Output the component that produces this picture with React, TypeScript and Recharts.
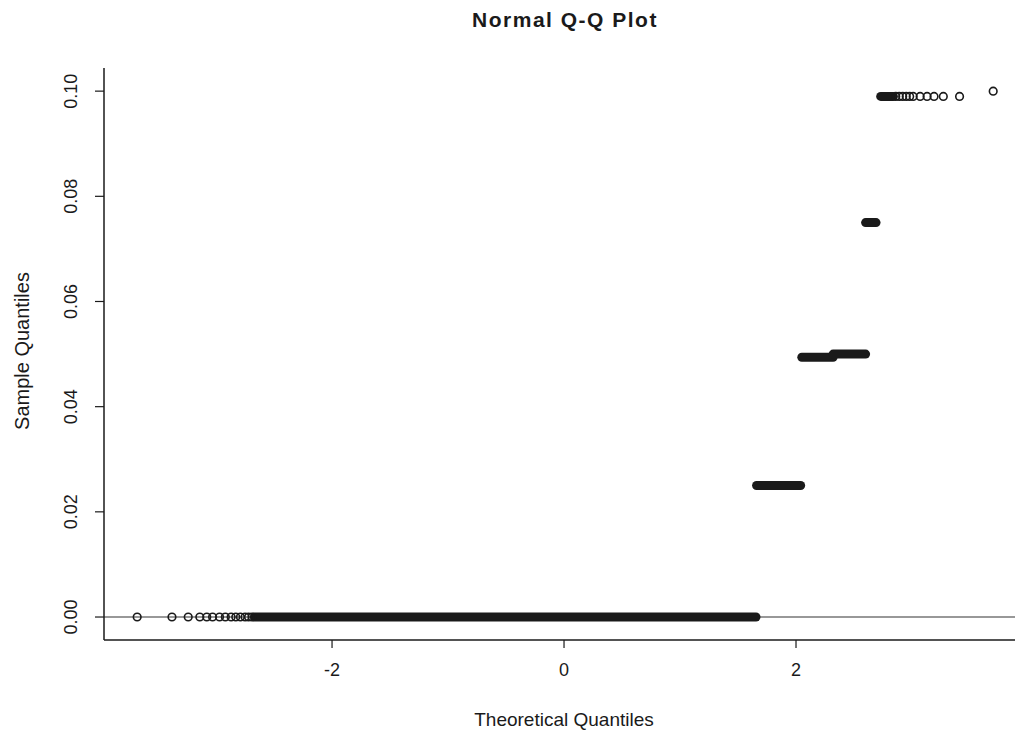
import React from 'react';
import {
  ComposedChart,
  Scatter,
  Line,
  XAxis,
  YAxis,
  ReferenceLine,
} from 'recharts';

// Sparse tail points at sample value 0 (left tail)
const LEFT_TAIL_X = [-3.68, -3.38, -3.24, -3.14, -3.08, -3.03, -2.97, -2.92, -2.87, -2.83, -2.79, -2.75, -2.72, -2.69];
// Sparse points at 0.099 (right tail)
const TOP_TAIL_X = [2.86, 2.89, 2.92, 2.95, 2.98, 3.01, 3.07, 3.13, 3.19, 3.27, 3.41];
const TOP_TAIL_Y = 0.099;
// The single max point
const MAX_POINT = { x: 3.7, y: 0.1 };

// Dense runs of overlapping points: [fromX, toX, sampleValue]
const DENSE_RUNS: [number, number, number][] = [
  [-2.67, 1.655, 0],
  [1.66, 2.04, 0.025],
  [2.05, 2.32, 0.0494],
  [2.32, 2.6, 0.05],
  [2.6, 2.69, 0.075],
  [2.73, 2.84, 0.099],
];

const X_TICKS = [-2, 0, 2];
const Y_TICKS = [0, 0.02, 0.04, 0.06, 0.08, 0.1];
const Y_TICK_LABELS = ['0.00', '0.02', '0.04', '0.06', '0.08', '0.10'];

const FONT = '"Liberation Sans", Arial, sans-serif';
const INK = '#1a1a1a';

const points = [
  ...LEFT_TAIL_X.map((x) => ({ x, y: 0 })),
  ...TOP_TAIL_X.map((x) => ({ x, y: TOP_TAIL_Y })),
  MAX_POINT,
];

function OpenCircle(props: any) {
  const { cx, cy } = props;
  if (cx == null || cy == null) return null;
  return <circle cx={cx} cy={cy} r={3.8} fill="none" stroke={INK} strokeWidth={1.6} />;
}

function XTick(props: any) {
  const { x, y, payload } = props;
  return (
    <text x={x} y={y + 26} textAnchor="middle" fontFamily={FONT} fontSize={18} fill={INK}>
      {payload.value}
    </text>
  );
}

function YTick(props: any) {
  const { x, y, payload } = props;
  const idx = Y_TICKS.indexOf(payload.value);
  const label = idx >= 0 ? Y_TICK_LABELS[idx] : String(payload.value);
  const bx = x - 16;
  return (
    <text
      x={bx}
      y={y}
      transform={`rotate(-90, ${bx}, ${y})`}
      textAnchor="middle"
      fontFamily={FONT}
      fontSize={18}
      fill={INK}
    >
      {label}
    </text>
  );
}

export default function App() {
  return (
    <div style={{ position: 'absolute', left: 0, top: 0, width: 1015, height: 735, background: '#fff' }}>
      <ComposedChart
        width={1015}
        height={735}
        margin={{ top: 68, right: 0, bottom: 0, left: 0 }}
      >
        <XAxis
          xAxisId="bottom"
          type="number"
          dataKey="x"
          domain={[-3.966, 3.888]}
          ticks={X_TICKS}
          height={95}
          tickSize={8}
          tick={<XTick />}
          axisLine={{ stroke: INK, strokeWidth: 1.5 }}
          tickLine={{ stroke: INK, strokeWidth: 1.2 }}
          allowDataOverflow
        />
        <XAxis
          xAxisId="top"
          orientation="top"
          type="number"
          dataKey="x"
          domain={[-3.966, 3.888]}
          height={0}
          tick={false}
          tickLine={false}
          axisLine={{ stroke: INK, strokeWidth: 1.5 }}
          allowDataOverflow
        />
        <YAxis
          type="number"
          dataKey="y"
          domain={[-0.00437, 0.1044]}
          ticks={Y_TICKS}
          width={104}
          tickSize={9}
          tick={<YTick />}
          axisLine={{ stroke: INK, strokeWidth: 1.5 }}
          tickLine={{ stroke: INK, strokeWidth: 1.2 }}
          allowDataOverflow
        />
        <ReferenceLine xAxisId="bottom" y={0} stroke="#333" strokeWidth={1.2} />
        {DENSE_RUNS.map(([x0, x1, v], i) => (
          <Line
            key={`run-${i}`}
            xAxisId="bottom"
            data={[
              { x: x0, y: v },
              { x: x1, y: v },
            ]}
            dataKey="y"
            type="linear"
            stroke={INK}
            strokeWidth={9}
            strokeLinecap="round"
            dot={false}
            activeDot={false}
            isAnimationActive={false}
          />
        ))}
        <Scatter
          xAxisId="bottom"
          data={points}
          dataKey="y"
          shape={<OpenCircle />}
          isAnimationActive={false}
        />
      </ComposedChart>
      <svg
        width={1015}
        height={735}
        style={{ position: 'absolute', left: 0, top: 0, pointerEvents: 'none' }}
      >
        <text x={565} y={27} textAnchor="middle" fontFamily={FONT} fontWeight="bold" fontSize={21} letterSpacing={1.5} fill={INK}>
          Normal Q-Q Plot
        </text>
        <text x={564} y={726} textAnchor="middle" fontFamily={FONT} fontSize={19} fill={INK}>
          Theoretical Quantiles
        </text>
        <text
          x={29}
          y={351}
          transform="rotate(-90, 29, 351)"
          textAnchor="middle"
          fontFamily={FONT}
          fontSize={20}
          fill={INK}
        >
          Sample Quantiles
        </text>
      </svg>
    </div>
  );
}
